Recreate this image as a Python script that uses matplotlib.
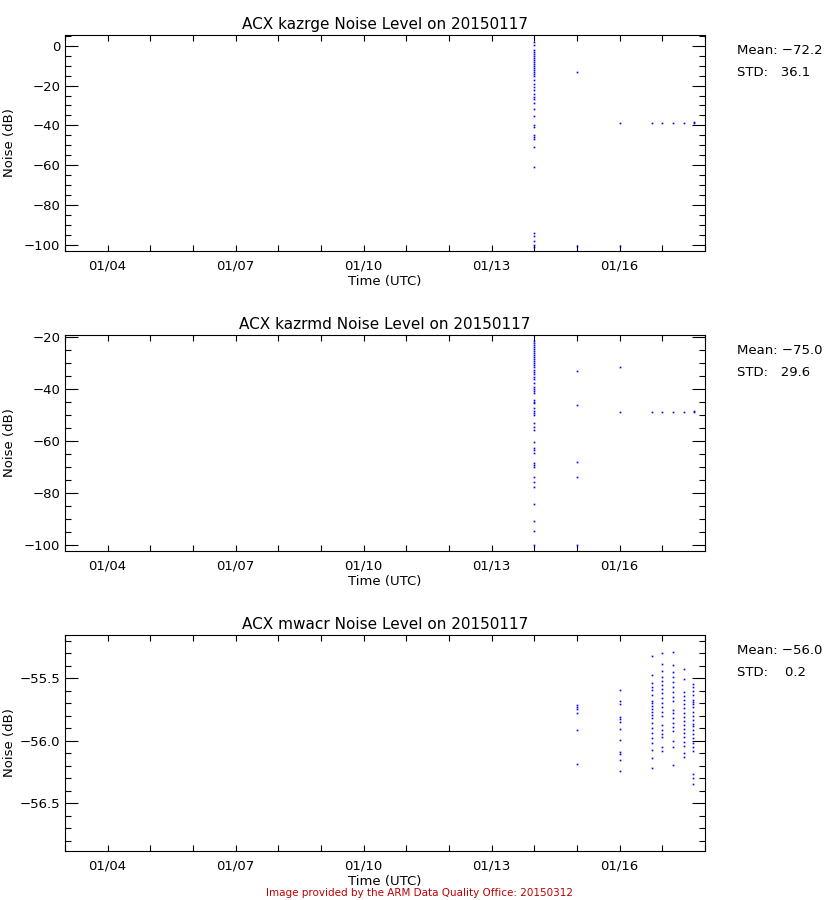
import matplotlib
matplotlib.use('Agg')
import matplotlib.pyplot as plt
from matplotlib.ticker import MultipleLocator, FuncFormatter

# x軸（1月の日付）
tick_days = [4, 7, 10, 13, 16]
tick_labels = ['01/04', '01/07', '01/10', '01/13', '01/16']
date_str = '20150117'

# kazrge
kazrge_days = [14, 15, 16, 16.75, 17.0, 17.25, 17.5, 17.75]
kazrge_vals = [
    [2.0, 0.3, -2, -3, -4, -5, -6, -7, -8, -9, -10, -11, -12, -13, -14,
     -15.4, -17, -19, -20.5, -22, -24, -25.5, -27, -29, -32, -35.5,
     -40, -41, -45, -46, -47, -51, -61, -94, -95.5, -98, -100, -101],
    [-13.3, -100.5],
    [-39, -100.5],
    [-39],
    [-39],
    [-39],
    [-39],
    [-38.5, -39],
]

# kazrmd
kazrmd_days = [14, 15, 16, 16.75, 17.0, 17.25, 17.5, 17.75]
kazrmd_vals = [
    [-21.5, -22.3, -23, -23.8, -24.6, -25.4, -26.2, -27, -27.8, -28.6, -29.4,
     -30.2, -31, -31.8, -32.6, -33.4, -34.2, -35.4, -36.4, -37.9, -39.2, -40,
     -40.8, -41.8, -44.3, -45, -45.6, -47.4, -48.5, -49.2, -50.1, -53.2, -54.5,
     -55.9, -60.6, -62.8, -63.7, -64.6, -68.5, -69.3, -70, -73.8, -75.8, -77.7,
     -84.1, -90.9, -94.7, -100],
    [-33.1, -46.4, -68.3, -73.8, -100],
    [-31.8, -48.8],
    [-48.8],
    [-48.8],
    [-48.8],
    [-48.8],
    [-48.4, -48.8],
]

# mwacr
mwacr_days = [15, 16, 16.75, 17.0, 17.25, 17.5, 17.73]
mwacr_vals = [
    [-55.716, -55.732, -55.748, -55.775, -55.914, -56.188],
    [-55.596, -55.679, -55.706, -55.812, -55.828, -55.847, -55.908, -55.994,
     -56.087, -56.106, -56.154, -56.244],
    [-55.322, -55.476, -55.54, -55.567, -55.594, -55.634, -55.679, -55.7,
     -55.722, -55.743, -55.767, -55.794, -55.82, -55.86, -55.9, -55.94,
     -55.98, -56.02, -56.074, -56.14, -56.218],
    [-55.3, -55.388, -55.439, -55.487, -55.519, -55.554, -55.588, -55.62,
     -55.66, -55.695, -55.732, -55.767, -55.802, -55.874, -55.914, -55.946,
     -55.972, -56.047, -56.079],
    [-55.29, -55.394, -55.447, -55.487, -55.527, -55.567, -55.607, -55.647,
     -55.679, -55.754, -55.775, -55.82, -55.855, -55.887, -55.919, -56.002,
     -56.047, -56.196],
    [-55.428, -55.508, -55.607, -55.642, -55.674, -55.706, -55.74, -55.775,
     -55.807, -55.839, -55.874, -55.908, -55.94, -55.972, -56.007, -56.042,
     -56.1, -56.132],
    [-55.546, -55.572, -55.599, -55.634, -55.674, -55.687, -55.706, -55.732,
     -55.767, -55.802, -55.834, -55.866, -55.882, -55.914, -55.946, -55.98,
     -56.015, -56.047, -56.079, -56.268, -56.3, -56.348],
]

panels = [
    ('kazrge', kazrge_days, kazrge_vals, (-103.0, 5.35), 20, 5, '%d', -72.2, 36.1),
    ('kazrmd', kazrmd_days, kazrmd_vals, (-102.3, -19.35), 20, 5, '%d', -75.0, 29.6),
    ('mwacr', mwacr_days, mwacr_vals, (-56.88, -55.153), 0.5, 0.1, '%.1f', -56.0, 0.2),
]


def minus(s):
    return s.replace('-', '\u2212')


plt.rcParams['font.family'] = ['DejaVu Sans']
fig = plt.figure(figsize=(8.4, 9), dpi=100)

all_days = list(range(3, 19))
day_labels = [tick_labels[tick_days.index(d)] if d in tick_days else '' for d in all_days]

bottoms = [1 - 251 / 900, 1 - 551 / 900, 1 - 851 / 900]
for (name, days, vals, ylim, major, minor, fmt, mean, std), b in zip(panels, bottoms):
    ax = fig.add_axes([65 / 840, b, 640 / 840, 216 / 900])
    for d, v in zip(days, vals):
        ax.plot([d] * len(v), v, 's', color='blue', ms=1.2, mew=0)
    ax.set_xlim(3, 18)
    ax.set_ylim(*ylim)
    ax.set_xticks(all_days)
    ax.set_xticklabels(day_labels)
    ax.tick_params(axis='x', which='major', direction='in', top=True, length=4.5,
                   width=0.8, labelsize=9.5, pad=6)
    ax.yaxis.set_major_locator(MultipleLocator(major))
    ax.yaxis.set_minor_locator(MultipleLocator(minor))
    ax.yaxis.set_major_formatter(FuncFormatter(lambda y, p, f=fmt: minus(f % y)))
    ax.tick_params(axis='y', which='major', direction='in', right=True, length=9.5,
                   width=0.8, labelsize=9.5)
    ax.tick_params(axis='y', which='minor', direction='in', right=True, length=4.5,
                   width=0.8)
    for s in ax.spines.values():
        s.set_linewidth(0.8)
    ax.set_title('ACX %s Noise Level on %s' % (name, date_str), fontsize=11, pad=4)
    ax.set_xlabel('Time (UTC)', fontsize=9.5, labelpad=2)
    ax.set_ylabel('Noise (dB)', fontsize=9.5)
    ax.yaxis.set_label_coords(-0.077, 0.5)
    ax.text(1.05, 0.91, minus('Mean: %5.1f' % mean), transform=ax.transAxes, fontsize=9.5)
    ax.text(1.05, 0.81, 'STD:  %5.1f' % std, transform=ax.transAxes, fontsize=9.5)

fig.text(0.5, 1 - 893 / 900, 'Image provided by the ARM Data Quality Office: 20150312',
         color='#c00000', fontsize=7.5, ha='center', va='center')

fig.savefig('out.png', dpi=100)
